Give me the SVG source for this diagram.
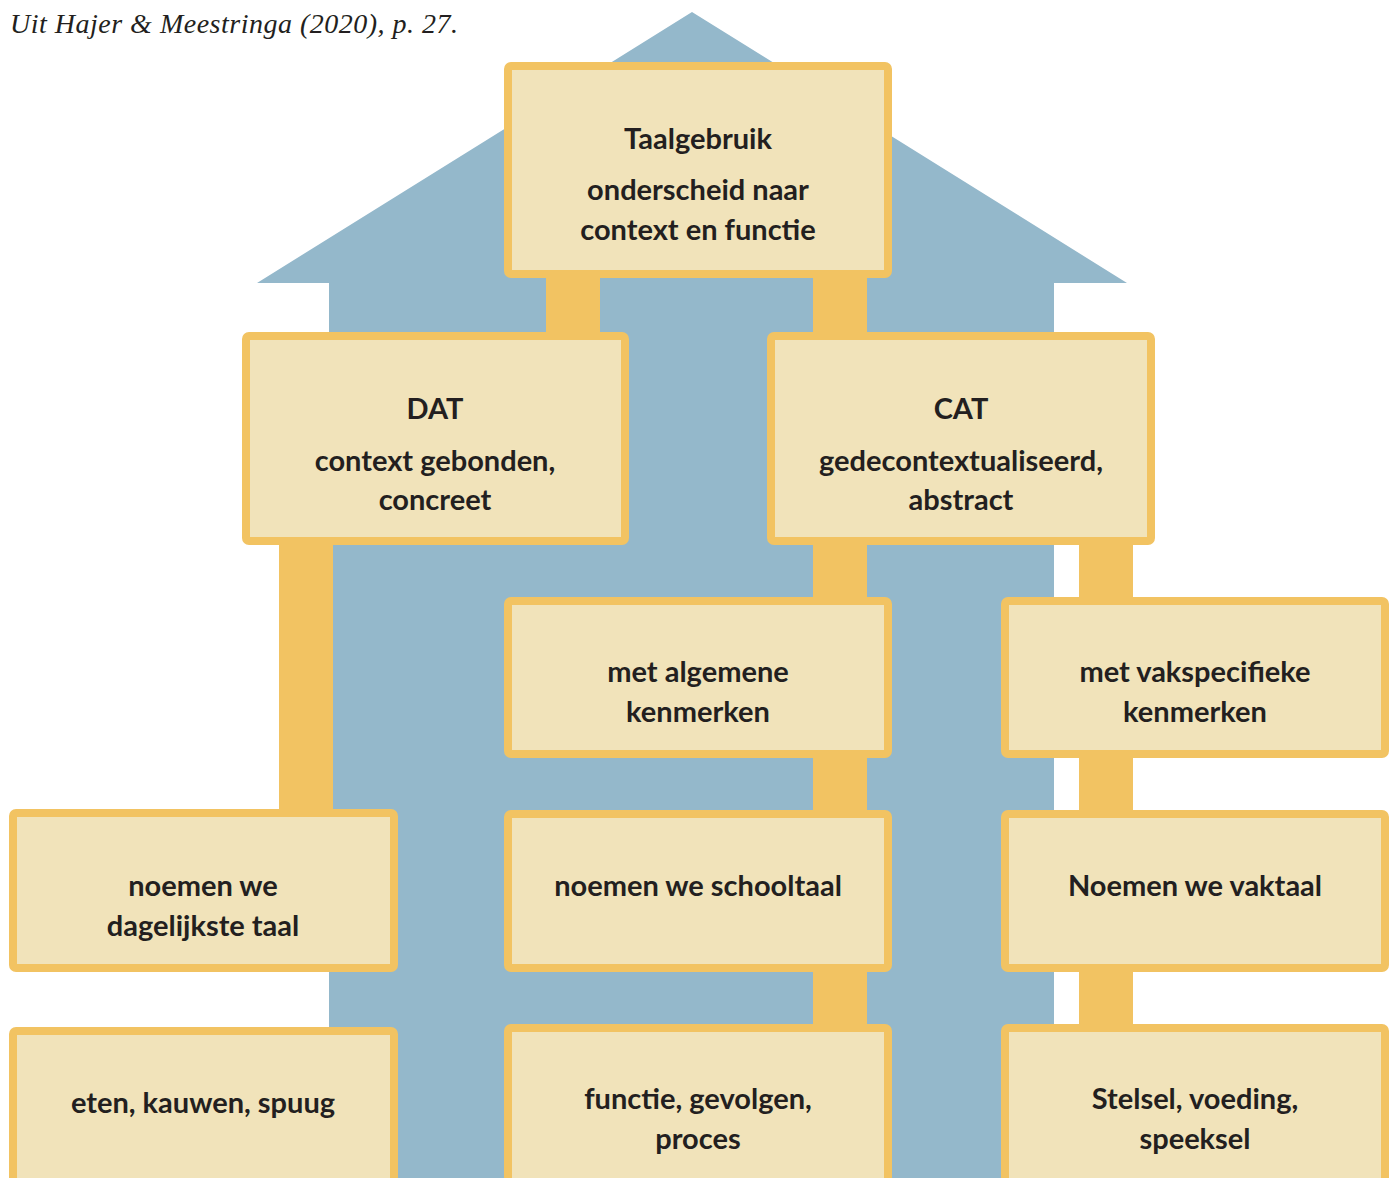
<svg xmlns="http://www.w3.org/2000/svg" width="1392" height="1178" viewBox="0 0 1392 1178">
<style>
.box{fill:#F1E3BA;stroke:#F2C362;stroke-width:8;}
.con{fill:#F2C362;}
.t{font-family:Lato,"Open Sans","Liberation Sans",sans-serif;font-weight:700;font-size:29px;fill:#231F20;text-anchor:middle;}
.cap{font-family:"Liberation Serif",serif;font-style:italic;font-size:28px;fill:#231F20;}
</style>
<rect width="1392" height="1178" fill="#FFFFFF"/>
<g id="house">
<polygon points="692,12 1127,283 1054,283 1054,1178 329,1178 329,283 257,283" fill="#94B8CB"/>
</g>
<text class="cap" x="10" y="33" textLength="448" lengthAdjust="spacing">Uit Hajer &amp; Meestringa (2020), p. 27.</text>
<g id="connectors">
<rect class="con" x="546" y="276" width="54" height="60"/>
<rect class="con" x="813" y="276" width="54" height="60"/>
<rect class="con" x="279" y="543" width="54" height="270"/>
<rect class="con" x="813" y="543" width="54" height="58"/>
<rect class="con" x="1079" y="543" width="54" height="58"/>
<rect class="con" x="813" y="756" width="54" height="58"/>
<rect class="con" x="1079" y="756" width="54" height="58"/>
<rect class="con" x="813" y="970" width="54" height="58"/>
<rect class="con" x="1079" y="970" width="54" height="58"/>
</g>
<g id="n-taalgebruik">
<rect class="box" x="508" y="66" width="380" height="208" rx="3"/>
<text class="t" x="698" y="149">Taalgebruik</text>
<text class="t" x="698" y="200">onderscheid naar</text>
<text class="t" x="698" y="240">context en functie</text>
</g>
<g id="n-dat">
<rect class="box" x="246" y="336" width="379" height="205" rx="3"/>
<text class="t" x="435" y="419">DAT</text>
<text class="t" x="435" y="471">context gebonden,</text>
<text class="t" x="435" y="510">concreet</text>
</g>
<g id="n-cat">
<rect class="box" x="771" y="336" width="380" height="205" rx="3"/>
<text class="t" x="961" y="419">CAT</text>
<text class="t" x="961" y="471">gedecontextualiseerd,</text>
<text class="t" x="961" y="510">abstract</text>
</g>
<g id="n-algemeen">
<rect class="box" x="508" y="601" width="380" height="153" rx="3"/>
<text class="t" x="698" y="682">met algemene</text>
<text class="t" x="698" y="722">kenmerken</text>
</g>
<g id="n-vakspecifiek">
<rect class="box" x="1005" y="601" width="380" height="153" rx="3"/>
<text class="t" x="1195" y="682">met vakspecifieke</text>
<text class="t" x="1195" y="722">kenmerken</text>
</g>
<g id="n-dagelijks">
<rect class="box" x="13" y="813" width="381" height="155" rx="3"/>
<text class="t" x="203" y="896">noemen we</text>
<text class="t" x="203" y="936">dagelijkste taal</text>
</g>
<g id="n-schooltaal">
<rect class="box" x="508" y="814" width="380" height="154" rx="3"/>
<text class="t" x="698" y="896">noemen we schooltaal</text>
</g>
<g id="n-vaktaal">
<rect class="box" x="1005" y="814" width="380" height="154" rx="3"/>
<text class="t" x="1195" y="896">Noemen we vaktaal</text>
</g>
<g id="n-eten">
<rect class="box" x="13" y="1031" width="381" height="170" rx="3"/>
<text class="t" x="203" y="1113">eten, kauwen, spuug</text>
</g>
<g id="n-functie">
<rect class="box" x="508" y="1028" width="380" height="170" rx="3"/>
<text class="t" x="698" y="1109">functie, gevolgen,</text>
<text class="t" x="698" y="1149">proces</text>
</g>
<g id="n-stelsel">
<rect class="box" x="1005" y="1028" width="380" height="170" rx="3"/>
<text class="t" x="1195" y="1109">Stelsel, voeding,</text>
<text class="t" x="1195" y="1149">speeksel</text>
</g>
</svg>
